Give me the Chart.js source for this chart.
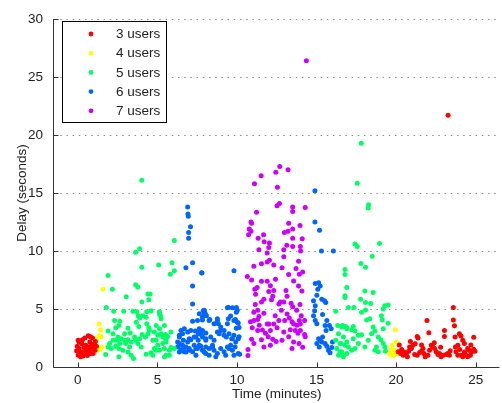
<!DOCTYPE html>
<html>
<head>
<meta charset="utf-8">
<script src="https://cdn.jsdelivr.net/npm/chart.js@4/dist/chart.umd.min.js"></script>
<style>
  html, body { margin: 0; padding: 0; background: #fff; }
  #wrap { width: 502px; height: 403px; }
</style>
</head>
<body>
<div id="wrap"><canvas id="delayChart"></canvas></div>
<script>
// tick labels
const xTicks = [0, 5, 10, 15, 20, 25];
const yTicks = [0, 5, 10, 15, 20, 25, 30];

const seriesNames = ["3 users", "4 users", "5 users", "6 users", "7 users"];
const seriesColors = ["#ff0000", "#ffff00", "#00ff66", "#0066ff", "#cc00ff"];

// [time (min), delay (s)]
const users3 = [
  [0.02,2.3],[0.29,2.36],[0.65,2.7],[0.79,2.6],[0.92,2.5],[1.02,2.0],[0.96,1.73],[0.85,1.56],
  [0.71,1.4],[0.54,1.22],[0.38,1.1],[0.23,1.3],[0.08,1.6],[-0.04,1.8],[-0.08,1.4],[0.02,1.02],
  [0.17,0.88],[0.33,0.94],[0.5,1.45],[0.65,1.73],[0.79,1.16],[0.96,1.16],[1.08,1.45],[1.17,1.8],
  [0.13,1.25],[0.38,1.68],[0.25,2.0],[0.5,1.88],[0.75,2.16],[0.08,2.16],[0.44,2.5],[0.6,1.0],
  [0.88,1.9],[1.1,2.2],
  [23.6,5.14],[23.6,4.06],[23.67,3.55],[21.94,4.0],[22.06,2.95],[23.04,3.15],[23.04,2.64],
  [21.33,2.64],[21.38,2.5],[23.98,2.87],[24.08,2.67],[23.71,2.59],[24.88,2.56],[23.73,1.73],
  [23.88,1.88],[24.19,2.3],[24.29,2.02],[24.5,1.59],[24.6,1.45],[24.88,1.53],[24.96,1.36],
  [20.13,1.31],[20.29,1.16],[20.44,1.02],[20.65,1.16],[20.79,1.36],[20.96,1.59],[21.06,1.88],
  [20.85,1.73],[20.71,0.88],[21.17,1.08],[21.33,1.02],[21.48,1.25],[21.58,1.36],[21.69,1.59],
  [21.75,1.16],[21.83,0.88],[22.0,1.02],[22.1,1.45],[22.21,1.88],[22.31,1.73],[22.42,1.59],
  [22.52,1.31],[22.63,1.08],[22.73,1.16],[22.83,0.88],[22.94,1.02],[23.15,1.08],[23.25,1.16],
  [23.35,1.02],[23.77,1.31],[23.88,1.02],[24.08,1.02],[24.19,0.88],[24.29,1.16],[24.4,1.02],
  [24.5,0.88],[24.67,1.02],[24.75,1.31],[20.2,1.9],[20.35,1.5],[20.5,1.3],[20.9,2.2],[21.2,2.0],
  [21.6,1.9],[22.4,2.1],[22.8,1.7],[23.4,1.4],[24.0,1.5],[24.3,1.3],[24.7,1.9],[23.27,21.7]
];
const users4 = [
  [1.58,6.7],[1.33,3.7],[1.44,3.2],[1.33,2.7],[1.46,2.6],[1.17,2.3],[1.21,1.6],[1.38,1.5],
  [1.5,1.7],[1.29,1.45],[1.12,2.36],
  [19.96,3.21],[20.02,2.16],[19.71,1.59],[19.81,1.31],[19.67,1.02],[19.88,1.02],[19.92,1.45],
  [19.6,1.16],[19.75,1.88],[20.02,1.16]
];
const users5 = [
  [1.9,7.9],[2.17,6.7],[3.63,7.1],[3.77,6.9],[3.04,6.05],[4.4,6.3],[4.54,6.3],[4.46,5.8],
  [4.02,5.6],[3.88,10.2],[3.63,9.9],[4.02,8.6],[5.08,8.8],[5.92,9.0],[6.06,8.3],[5.81,8.0],
  [4.02,16.1],[6.06,10.9],
  [1.79,5.14],[2.25,4.8],[2.88,4.8],[3.46,4.8],[3.71,4.77],[3.79,4.43],[3.88,4.23],[4.08,4.43],
  [4.33,4.77],[4.29,4.29],[5.13,4.77],[5.19,4.43],[2.31,4.0],[2.63,3.95],[2.58,3.58],[2.38,3.38],
  [1.9,3.1],[3.15,3.35],[3.29,2.93],[3.67,3.86],[3.83,3.5],[4.33,3.72],[4.46,3.38],[4.5,3.15],
  [4.4,2.87],[4.25,2.59],[4.92,3.58],[5.13,3.3],[5.23,2.87],[5.38,2.59],[5.5,2.81],[5.65,2.64],
  [5.54,2.36],[2.21,2.87],[2.52,2.59],[2.73,2.44],[2.94,2.3],[3.15,2.36],[3.35,2.16],[3.0,2.02],
  [2.63,2.02],[2.38,1.8],[2.1,1.6],[2.58,1.6],[2.83,1.45],[3.15,1.3],[3.35,1.02],[3.5,0.74],
  [2.58,0.88],[1.75,1.08],[2.0,2.02],[2.21,2.3],[3.56,2.59],[3.88,2.44],[3.77,2.02],[3.98,1.73],
  [4.29,1.11],[4.6,1.22],[4.81,1.6],[4.92,2.3],[5.02,1.88],[5.13,1.45],[5.33,2.02],[5.44,1.6],
  [5.54,1.02],[5.75,1.45],[5.85,1.68],[6.06,1.6],[3.63,2.3],[3.25,1.73],[4.71,2.3],[4.04,2.81],
  [2.94,2.87],[2.42,2.3],[1.9,1.73],[4.6,4.86],[5.13,4.57],[5.23,4.15],[5.44,3.58],[4.81,3.01],
  [5.02,2.73],[5.33,2.59],[5.54,2.16],[5.85,3.01],[4.92,1.45],[4.71,1.02],[5.44,0.88],[5.75,1.02],
  [16.21,4.8],[16.79,8.41],[16.79,7.98],[16.9,6.85],[16.79,6.14],[16.33,3.58],[16.58,3.44],
  [16.9,3.38],[16.38,2.87],[16.69,2.59],[16.21,2.3],[16.48,2.02],[16.79,1.88],[16.27,1.59],
  [16.58,1.31],[16.9,1.16],[16.38,1.02],[16.69,0.88],
  [17.81,19.3],[17.56,15.85],[18.27,14.0],[18.25,13.72],[17.42,10.6],[17.56,10.4],[18.96,10.65],
  [18.5,9.55],[17.79,8.92],[18.08,8.61],[18.04,6.56],[18.56,6.42],[17.77,5.85],[18.08,5.57],
  [18.4,5.48],[19.29,5.28],[19.5,5.34],[16.79,5.99],[17.0,5.14],[17.35,5.14],[17.83,4.72],
  [18.08,4.91],[19.19,5.0],[18.15,4.06],[18.35,4.15],[19.08,4.43],[19.13,4.06],[19.5,3.78],
  [16.63,3.58],[16.83,3.49],[16.9,3.3],[17.21,3.21],[17.31,3.49],[17.42,3.1],[17.63,2.73],
  [17.83,2.78],[18.56,3.44],[18.67,3.1],[18.46,2.87],[19.19,3.3],[18.88,2.59],[19.04,2.36],
  [19.19,2.02],[18.77,1.73],[16.48,1.31],[16.63,1.02],[17.21,1.45],[17.42,1.59],[16.54,2.02],
  [16.9,2.16],[17.31,2.44],[17.0,1.73],[18.04,1.73],[18.67,1.45],[18.88,1.31],[19.29,1.73],
  [19.33,1.36],[18.25,2.3],[17.63,2.02]
];
const users6 = [
  [6.79,8.55],[7.21,8.98],[7.79,8.13],[7.21,6.99],[7.21,5.43],[7.94,4.86],[8.0,4.63],[8.08,4.43],
  [7.21,3.95],[7.52,4.0],[7.83,4.06],[6.69,3.3],[6.48,3.15],[6.9,3.01],[7.1,3.15],[7.38,3.1],
  [7.63,3.01],[8.04,2.93],[7.42,2.59],[7.83,2.59],[6.38,2.59],[6.27,2.16],[6.48,1.88],[6.69,1.68],
  [6.79,1.3],[6.58,1.45],[7.0,1.45],[7.31,1.88],[7.52,1.6],[7.73,1.8],[8.04,1.73],[7.94,1.3],
  [6.27,1.73],[6.38,1.3],[6.63,2.3],[6.9,2.16],[7.1,2.36],[7.56,2.3],
  [6.9,13.8],[6.92,13.2],[6.94,13.0],[7.08,12.1],[6.96,11.6],[6.96,11.1],
  [7.88,4.86],[7.94,4.57],[7.83,4.29],[8.29,4.09],[8.77,4.15],[8.83,3.72],[8.98,3.44],[9.46,5.14],
  [9.96,5.14],[9.96,4.72],[9.81,4.0],[10.02,3.86],[9.96,3.35],[6.58,2.87],[6.38,2.73],[7.0,2.44],
  [7.31,2.59],[7.58,2.87],[7.63,3.3],[7.83,3.15],[7.79,2.73],[8.04,2.44],[8.35,2.59],[8.56,2.3],
  [8.77,3.01],[8.98,3.15],[9.19,2.73],[9.33,2.59],[9.5,2.87],[9.67,2.44],[9.81,2.73],[9.92,2.16],
  [10.08,2.44],[6.38,2.02],[6.58,1.88],[6.79,1.73],[6.48,1.45],[6.69,1.31],[7.0,1.59],[7.21,1.31],
  [7.42,1.59],[7.63,1.88],[7.83,1.45],[8.04,1.16],[8.25,1.59],[8.46,1.88],[8.56,1.45],[8.77,1.16],
  [8.98,1.59],[9.19,1.31],[9.4,1.73],[9.6,1.88],[9.71,1.45],[9.88,1.73],[7.42,1.02],[8.25,1.02],
  [8.67,0.88],[9.29,1.02],[9.81,1.02],[10.08,1.16],[7.79,8.1],[9.81,8.3],[7.94,4.9],[7.63,4.6],
  [8.25,4.0],[8.56,3.72],[8.77,4.0],[8.88,2.87],[9.19,3.15],[8.04,2.3],[8.46,1.73],[9.5,1.59],
  [9.71,2.44],[9.46,4.15],[9.4,3.72],[9.4,5.1],[9.71,5.1],[10.02,4.9],[9.6,4.4],[9.9,4.1],
  [10.08,3.8],[10.13,3.4],[10.13,2.6],[10.17,1.1],
  [14.92,7.19],[15.13,7.27],[15.23,6.99],[15.08,6.7],[15.02,6.19],[14.81,5.71],[14.92,5.28],
  [14.88,4.86],[14.81,4.43],[14.92,4.0],[15.02,3.72],[15.33,5.85],[15.5,5.71],[15.58,5.57],
  [15.38,4.52],[15.65,4.0],[15.54,3.58],[15.6,3.15],[15.13,2.44],[15.23,2.3],[15.38,2.59],
  [15.33,2.16],[15.54,2.02],[15.65,1.79],[15.75,1.45],[15.85,1.22],[15.96,1.68],[16.0,2.16],
  [15.81,3.58],[15.92,3.3],[15.02,2.02],[15.17,1.73],
  [14.9,15.2],[14.9,12.5],[15.19,11.8],[15.31,10.0],[16.06,10.0]
];
const users7 = [
  [12.69,17.3],[13.21,17.0],[12.44,16.8],[11.52,16.5],[11.1,15.8],[12.54,15.5],[12.52,13.9],
  [12.67,14.1],[13.5,13.8],[14.29,13.75],[13.5,13.4],[11.23,13.35],[10.88,12.5],[10.92,12.4],
  [13.25,12.4],[13.96,12.2],[10.77,11.9],[10.88,11.7],[13.21,11.7],[13.5,11.9],[12.98,11.6],
  [10.73,11.4],[11.67,11.4],[11.33,11.1],[13.5,11.1],[14.1,11.05],[11.71,10.8],[13.13,10.5],
  [12.0,10.3],[13.5,10.4],[13.98,10.4],[11.38,10.1],[12.94,10.1],[14.0,10.0],[14.36,26.4],
  [12.04,10.7],[12.94,9.5],[11.54,8.9],[11.9,9.06],[12.04,9.2],[12.31,8.8],[13.71,8.5],[13.92,8.0],
  [14.13,8.2],[10.65,7.8],[10.92,7.5],[11.54,7.4],[11.9,7.4],[12.1,7.0],[11.12,6.7],[12.0,6.5],
  [12.31,6.6],[12.25,6.1],[13.08,6.6],[13.15,6.1],[12.94,5.6],[12.17,5.8],[11.54,5.6],[11.15,5.4],
  [11.3,4.9],[12.73,5.6],[12.79,4.9],[13.4,5.5],[13.5,5.2],[13.75,4.9],[13.96,5.4],[10.85,3.9],
  [11.06,4.0],[11.3,4.1],[11.4,3.6],[11.9,3.7],[12.0,3.7],[12.31,3.7],[12.1,3.15],[12.63,4.0],
  [13.0,4.0],[13.46,3.9],[13.56,3.7],[13.77,3.6],[13.98,3.7],[13.92,4.0],[11.3,3.15],[11.6,3.2],
  [11.79,2.9],[11.96,2.6],[12.25,2.4],[12.46,2.2],[13.25,2.6],[13.67,3.15],[13.83,2.9],
  [14.25,2.8],[14.29,2.6],[10.92,2.4],[10.69,1.5],[10.69,1.0],[14.13,1.7],
  [11.06,4.72],[11.38,4.35],[11.69,4.63],[12.4,4.43],[13.15,4.57],[13.29,4.23],[14.04,4.43],
  [14.25,4.0],[10.96,3.38],[12.52,3.38],[12.94,3.01],[13.35,3.21],[13.98,3.15],[11.54,2.36],
  [12.83,2.3],[13.56,2.16],[13.9,2.02],[12.1,1.88],[11.69,1.73],[11.06,2.02],[13.46,1.59],
  [12.63,5.43],[11.69,5.85],[11.17,6.28],[12.42,7.56],[13.25,7.98],[13.56,7.41],[13.87,6.99],
  [14.08,6.56],[12.83,8.55],[11.9,9.83],[11.06,8.69],[13.87,9.12],[11.27,6.85]
];

const allSeries = [users3, users4, users5, users6, users7];

const labelFont = { family: "'Liberation Sans', Arial, sans-serif", size: 13.5 };
const textColor = "#222";

// MATLAB style axes: dotted y grid, inward ticks, left/bottom lines, boxed legend
const matlabAxes = {
  id: "matlabAxes",
  beforeDatasetsDraw(chart) {
    const { ctx, chartArea: a, scales: { x, y } } = chart;
    ctx.save();
    ctx.lineWidth = 1;
    ctx.strokeStyle = "rgba(0,0,0,0.45)";
    ctx.setLineDash([1.5, 4.7]);
    yTicks.forEach(v => {
      if (v === 0) return;
      const py = Math.round(y.getPixelForValue(v)) + 0.5;
      ctx.beginPath();
      ctx.moveTo(a.left, py);
      ctx.lineTo(a.right, py);
      ctx.stroke();
    });
    ctx.setLineDash([]);
    ctx.strokeStyle = "#333";
    const left = Math.round(a.left) - 0.5;
    const bottom = Math.round(a.bottom) + 0.5;
    ctx.beginPath();
    ctx.moveTo(left, a.top);
    ctx.lineTo(left, bottom);
    ctx.lineTo(a.right, bottom);
    yTicks.forEach(v => {
      const py = Math.round(y.getPixelForValue(v)) + 0.5;
      ctx.moveTo(left, py);
      ctx.lineTo(left + 5, py);
    });
    xTicks.forEach(v => {
      const px = Math.round(x.getPixelForValue(v)) + 0.5;
      ctx.moveTo(px, bottom);
      ctx.lineTo(px, bottom - 5);
    });
    ctx.stroke();
    ctx.restore();
  },
  afterDraw(chart) {
    const ctx = chart.ctx;
    ctx.save();
    ctx.fillStyle = "#fff";
    ctx.fillRect(62.5, 21.5, 104, 101);
    ctx.strokeStyle = "#000";
    ctx.lineWidth = 1;
    ctx.strokeRect(62.5, 21.5, 104, 101);
    ctx.font = labelFont.size + "px " + labelFont.family;
    ctx.textBaseline = "middle";
    ctx.textAlign = "left";
    chart.data.datasets.forEach((ds, i) => {
      const rowY = 34 + i * 19.2;
      ctx.fillStyle = ds.backgroundColor;
      ctx.beginPath();
      ctx.arc(91, rowY, 2.4, 0, Math.PI * 2);
      ctx.fill();
      ctx.fillStyle = textColor;
      ctx.fillText(ds.label, 116, rowY + 0.5);
    });
    ctx.restore();
  }
};

const ctx = document.getElementById("delayChart").getContext("2d");
new Chart(ctx, {
  type: "scatter",
  data: {
    datasets: allSeries.map((pts, i) => ({
      label: seriesNames[i],
      data: pts.map(p => ({ x: p[0], y: p[1] })),
      backgroundColor: seriesColors[i],
      borderWidth: 0,
      pointRadius: 2.5,
      pointHoverRadius: 2.5
    }))
  },
  options: {
    responsive: true,
    maintainAspectRatio: false,
    animation: false,
    layout: { padding: { top: 15, right: 1, left: 0, bottom: 0 } },
    plugins: {
      legend: { display: false },
      tooltip: { enabled: false }
    },
    scales: {
      x: {
        type: "linear",
        min: -1.5,
        max: 26.5,
        afterBuildTicks: s => { s.ticks = xTicks.map(v => ({ value: v })); },
        afterFit: s => { s.height = 36; },
        grid: { display: false, drawTicks: false },
        border: { display: false },
        ticks: { font: labelFont, color: textColor, padding: 5, maxRotation: 0, autoSkip: false },
        title: { display: true, text: "Time (minutes)", font: labelFont, color: textColor, padding: { top: 0, bottom: 1 } }
      },
      y: {
        min: 0,
        max: 30,
        afterBuildTicks: s => { s.ticks = yTicks.map(v => ({ value: v })); },
        afterFit: s => { s.width = 54; },
        grid: { display: false, drawTicks: false },
        border: { display: false },
        ticks: { font: labelFont, color: textColor, padding: 11, autoSkip: false },
        title: { display: true, text: "Delay (seconds)", font: labelFont, color: textColor, padding: { top: 14, bottom: 0 } }
      }
    }
  },
  plugins: [matlabAxes]
});
</script>
</body>
</html>
